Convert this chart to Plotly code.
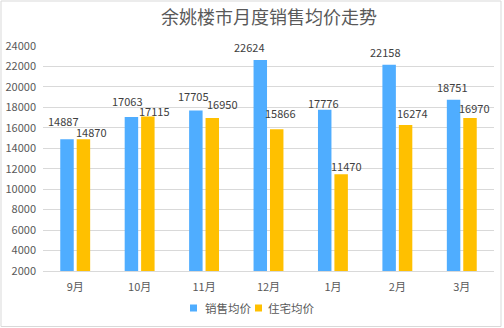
import plotly.graph_objects as go

months = ["9月", "10月", "11月", "12月", "1月", "2月", "3月"]
sales_avg = [14887, 17063, 17705, 22624, 17776, 22158, 18751]
housing_avg = [14870, 17115, 16950, 15866, 11470, 16274, 16970]
y_ticks = list(range(2000, 24001, 2000))
series_names = ["销售均价", "住宅均价"]
series_colors = ["#4FADFF", "#FFC000"]

# label nudges (px) so neighbouring value labels do not collide
sales_label_dx = [-3.5, -4, -2.5, -11, -1, -3.5, -1]
sales_label_dy = [18, 16, 14, 13, 7, 13, 13]
housing_label_dx = [8.5, 7, 10, 3.5, 5, 6.5, 5]
housing_label_dy = [7, 5.5, 14, 16, 8, 12, 10]

FONT = "Noto Sans CJK SC, Microsoft YaHei, sans-serif"
LABEL_COLOR = "#404040"
AXIS_COLOR = "#595959"

W, H = 504, 328
ML, MR, MT, MB = 43, 10, 46, 57
PW, PH = W - ML - MR, H - MT - MB
BAR_OFFSET = 8.2  # half a bar slot, px

fig = go.Figure()
for name, vals, color in zip(series_names, [sales_avg, housing_avg], series_colors):
    fig.add_trace(go.Bar(name=name, x=months, y=vals,
                         marker=dict(color=color, line=dict(width=0)),
                         showlegend=False))

annotations = []
for vals, sign, dxs, dys in [(sales_avg, -1, sales_label_dx, sales_label_dy),
                             (housing_avg, 1, housing_label_dx, housing_label_dy)]:
    for m, v, dx, dy in zip(months, vals, dxs, dys):
        annotations.append(dict(
            x=m, y=v, xref="x", yref="y", text=str(v), showarrow=False,
            xanchor="center", yanchor="middle",
            xshift=sign * BAR_OFFSET + dx, yshift=dy,
            font=dict(size=11, color=LABEL_COLOR, family=FONT)))

# legend: small squares followed by series names
def px_x(px):
    return (px - ML) / PW

def px_y(py):
    return (H - MB - py) / PH

shapes = []
legend_items = [(190, 203), (255, 266)]
for (sq_x, txt_x), name, color in zip(legend_items, series_names, series_colors):
    shapes.append(dict(type="rect", xref="paper", yref="paper",
                       x0=px_x(sq_x), x1=px_x(sq_x + 7),
                       y0=px_y(311.5), y1=px_y(304.5),
                       fillcolor=color, line=dict(width=0)))
    annotations.append(dict(x=px_x(txt_x), y=px_y(308), xref="paper", yref="paper",
                            text=name, showarrow=False, xanchor="left", yanchor="middle",
                            font=dict(size=11.5, color=AXIS_COLOR, family=FONT)))

# chart frame
shapes.append(dict(type="rect", xref="paper", yref="paper",
                   x0=px_x(1), x1=px_x(501), y0=px_y(326.5), y1=px_y(1),
                   layer="above", line=dict(color="#D9D9D9", width=1)))

fig.update_layout(
    width=W, height=H,
    margin=dict(l=ML, r=MR, t=MT, b=MB, autoexpand=False),
    paper_bgcolor="white", plot_bgcolor="white",
    barmode="group", bargap=0.49, bargroupgap=0.18,
    font=dict(family=FONT, color=AXIS_COLOR, size=11),
    title=dict(text="余姚楼市月度销售均价走势", x=269 / W,
               xanchor="center", y=1 - 18 / H, yanchor="middle",
               font=dict(size=18, color=AXIS_COLOR, family=FONT)),
    showlegend=False,
    annotations=annotations,
    shapes=shapes,
)
fig.update_yaxes(
    range=[2000, 24000], tickvals=y_ticks, ticktext=[str(v) for v in y_ticks],
    showgrid=True, gridcolor="#D9D9D9", gridwidth=1,
    zeroline=False, showline=False, ticks="",
    tickfont=dict(size=11, color=AXIS_COLOR),
    ticklabelstandoff=6,
)
fig.update_xaxes(
    showline=True, linecolor="#D9D9D9", linewidth=1,
    ticks="", tickfont=dict(size=11, color=AXIS_COLOR),
    ticklabelstandoff=6,
)

fig.write_html("out.html")
